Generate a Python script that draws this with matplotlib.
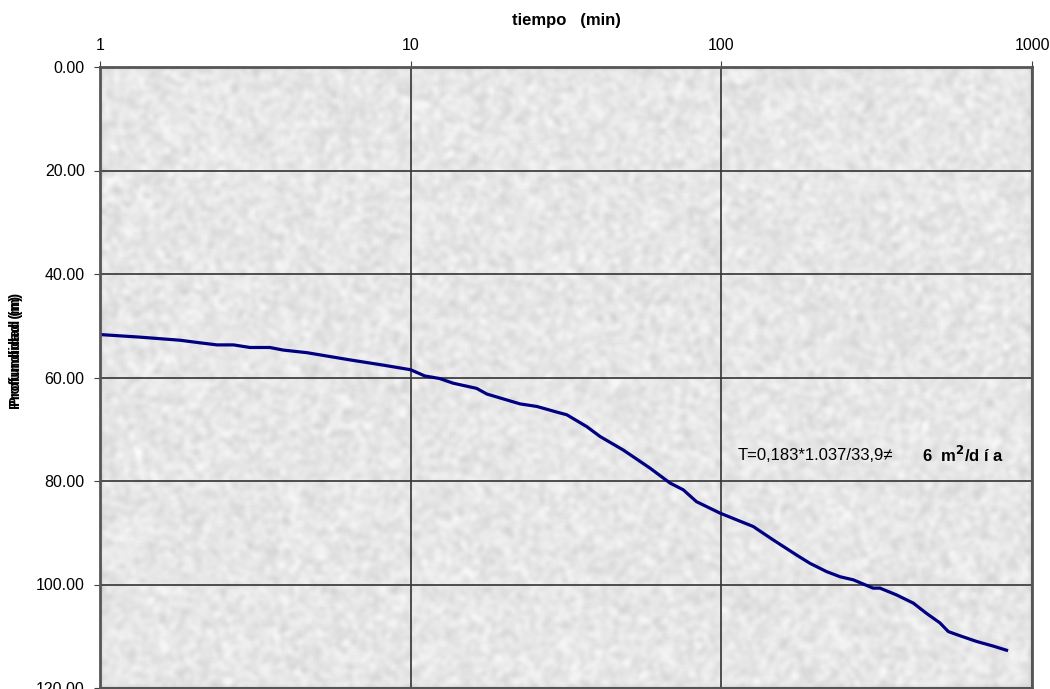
import numpy as np
import matplotlib
matplotlib.use("Agg")
import matplotlib.pyplot as plt
from matplotlib.ticker import FixedLocator, FixedFormatter

plt.rcParams['font.family'] = ['Liberation Sans', 'DejaVu Sans']

# Pumping test: elapsed time (min) vs water level depth (m)
tiempo = [1.0, 1.345, 1.81, 2.10, 2.38, 2.69, 3.04, 3.52, 3.89, 4.63,
          6.38, 8.14, 10.0, 11.1, 12.4, 13.7, 16.3, 17.6, 22.5, 25.5,
          29.6, 31.8, 36.9, 40.7, 48.3, 58.9, 68.4, 75.4, 83.2, 99.0,
          112, 126.7, 147, 174.6, 192.8, 218, 241, 266, 308, 324,
          366, 415, 458, 505, 538, 586, 663, 750, 828]
profundidad = [51.7, 52.2, 52.8, 53.3, 53.7, 53.7, 54.2, 54.2, 54.7, 55.2,
               56.6, 57.6, 58.5, 59.7, 60.2, 61.1, 62.1, 63.2, 65.1, 65.6,
               66.7, 67.2, 69.5, 71.4, 74.0, 77.5, 80.4, 81.7, 84.0, 86.2,
               87.5, 88.8, 91.4, 94.3, 95.9, 97.5, 98.5, 99.1, 100.7, 100.7,
               102.0, 103.6, 105.6, 107.4, 109.1, 109.9, 111.0, 111.9, 112.7]

x_ticks = [1, 10, 100, 1000]
y_ticks = [0, 20, 40, 60, 80, 100, 120]
y_tick_labels = ["%.2f" % v for v in y_ticks]

fig = plt.figure(figsize=(10.5, 6.89), dpi=100)
ax = fig.add_axes([100 / 1050, 1 / 689, 932 / 1050, 621 / 689])

# Granite-like gray fill for the plot area
rng = np.random.default_rng(7)
noise = rng.random((320, 480))
k = np.ones(3) / 3.0
for _ in range(2):
    noise = np.apply_along_axis(lambda r: np.convolve(r, k, mode='same'), 1, noise)
    noise = np.apply_along_axis(lambda c: np.convolve(c, k, mode='same'), 0, noise)
noise = (noise - noise.min()) / (noise.max() - noise.min())
tex = 0.79 + 0.20 * noise
ax.imshow(tex, cmap='gray', vmin=0, vmax=1, extent=[0, 1, 0, 1],
          transform=ax.transAxes, aspect='auto', zorder=0, interpolation='bilinear')

ax.plot(tiempo, profundidad, color='#000080', lw=2.3, zorder=3)

ax.set_xscale('log')
ax.set_xlim(1, 1000)
ax.set_ylim(120, 0)

ax.xaxis.set_major_locator(FixedLocator(x_ticks))
ax.xaxis.set_major_formatter(FixedFormatter([str(v) for v in x_ticks]))
ax.xaxis.set_minor_locator(FixedLocator([]))
ax.yaxis.set_major_locator(FixedLocator(y_ticks))
ax.yaxis.set_major_formatter(FixedFormatter(y_tick_labels))

ax.xaxis.tick_top()
ax.xaxis.set_label_position('top')
ax.tick_params(axis='x', which='major', length=4, pad=6, labelsize=11.5, color='#404040')
ax.tick_params(axis='y', which='major', length=4, pad=7, labelsize=11.5, color='#404040')

ax.grid(True, which='major', color='#333333', lw=1.2, zorder=2)
ax.set_axisbelow(False)
for s in ax.spines.values():
    s.set_color('#555555')
    s.set_linewidth(2.0)
    s.set_zorder(4)

ax.set_xlabel('tiempo   (min)', fontsize=12, fontweight='bold')
ax.xaxis.set_label_coords(0.5, 1 + 42 / 621)

# y label drawn twice with a small offset
for dy in (0.0, 0.003):
    fig.text(16 / 1050, 1 - 352 / 689 + dy, 'Profundidad (m)', rotation=90,
             fontsize=10.5, fontweight='bold', ha='center', va='center')

ax.text(0.6845, 75.0, 'T=0,183*1.037/33,9\u2260', transform=ax.get_yaxis_transform(),
        fontsize=12, va='center', ha='left', zorder=5)
ax.text(0.882, 75.0, r'6  m$^{\mathbf{2}}$/d í a', transform=ax.get_yaxis_transform(),
        fontsize=12, fontweight='bold', va='center', ha='left', zorder=5)

fig.savefig('out.png', dpi=100)
